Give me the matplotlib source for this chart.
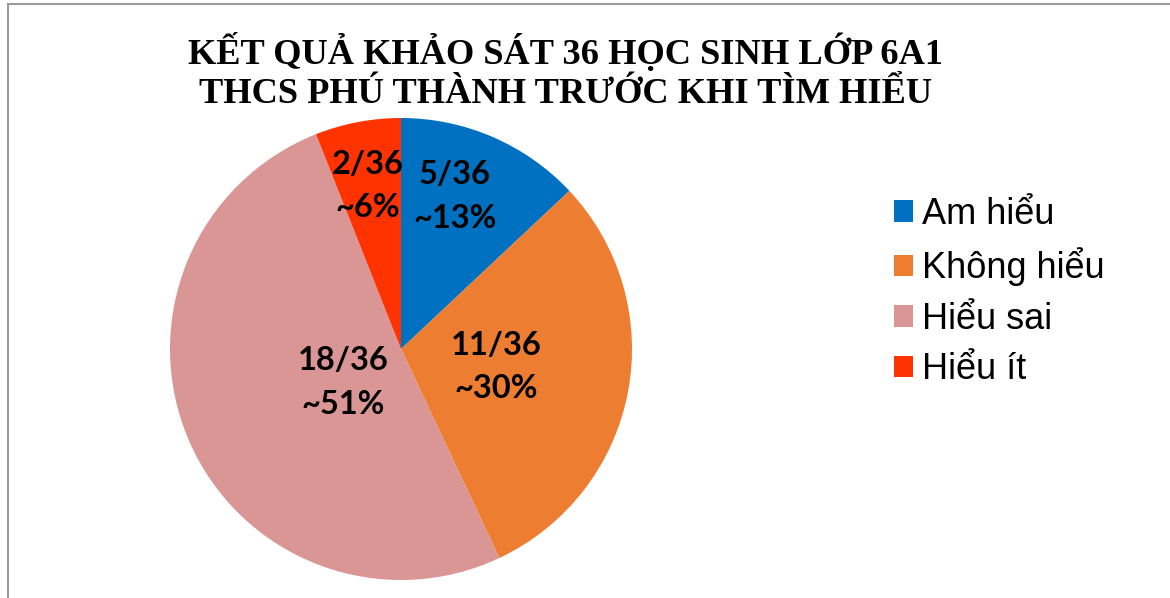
import numpy as np
import matplotlib
matplotlib.use("Agg")
import matplotlib.pyplot as plt
from matplotlib.patches import Patch, Rectangle

# survey data
categories = ["Am hiểu", "Không hiểu", "Hiểu sai", "Hiểu ít"]
counts = [5, 11, 18, 2]
total = 36
percents = [13, 30, 51, 6]   # slice sizes follow the rounded percentages
colors = ["#0070C0", "#ED7D31", "#DA9694", "#FF3300"]
title = "KẾT QUẢ KHẢO SÁT 36 HỌC SINH LỚP 6A1\nTHCS PHÚ THÀNH TRƯỚC KHI TÌM HIỂU"

# label placement (fraction of radius, angle nudge in degrees)
label_dist = [0.70, 0.42, 0.29, 0.72]
label_nudge = [4, 0, 6.5, 0.6]

fig = plt.figure(figsize=(11.7, 5.98), dpi=100)
fig.patches.append(Rectangle((8/1170, -0.1), 1.2, (594/598)+0.1, transform=fig.transFigure,
                             fill=False, edgecolor="#9a9a9a", linewidth=1.5))

ax = fig.add_axes([170/1170, 18/598, 462/1170, 462/598])
wedges, _ = ax.pie(percents, colors=colors, startangle=90, counterclock=False,
                   radius=1, wedgeprops=dict(linewidth=0))
ax.set_xlim(-1, 1); ax.set_ylim(-1, 1); ax.set_aspect("equal")

for w, c, p, d, nd in zip(wedges, counts, percents, label_dist, label_nudge):
    ang = np.deg2rad((w.theta1 + w.theta2) / 2 + nd)
    ax.text(d*np.cos(ang), d*np.sin(ang), f"{c}/{total}\n~{p}%", ha="center", va="center",
            fontsize=23.5, fontweight="bold", family=["Lato", "DejaVu Sans"], linespacing=1.6)

fig.text(566/1170, 1-72/598, title, ha="center", va="center", fontsize=26.2, fontweight="bold",
         family="Liberation Serif", linespacing=1.24)

handles = [Patch(facecolor=c, edgecolor="none") for c in colors]
fig.legend(handles, categories, loc="center left", bbox_to_anchor=(894/1170, 1-292/598),
           frameon=False, prop=dict(family="Liberation Sans", size=26),
           handlelength=0.53, handleheight=0.53, handletextpad=0.25, labelspacing=0.43,
           borderpad=0, borderaxespad=0)

fig.savefig("out.png", dpi=100)
